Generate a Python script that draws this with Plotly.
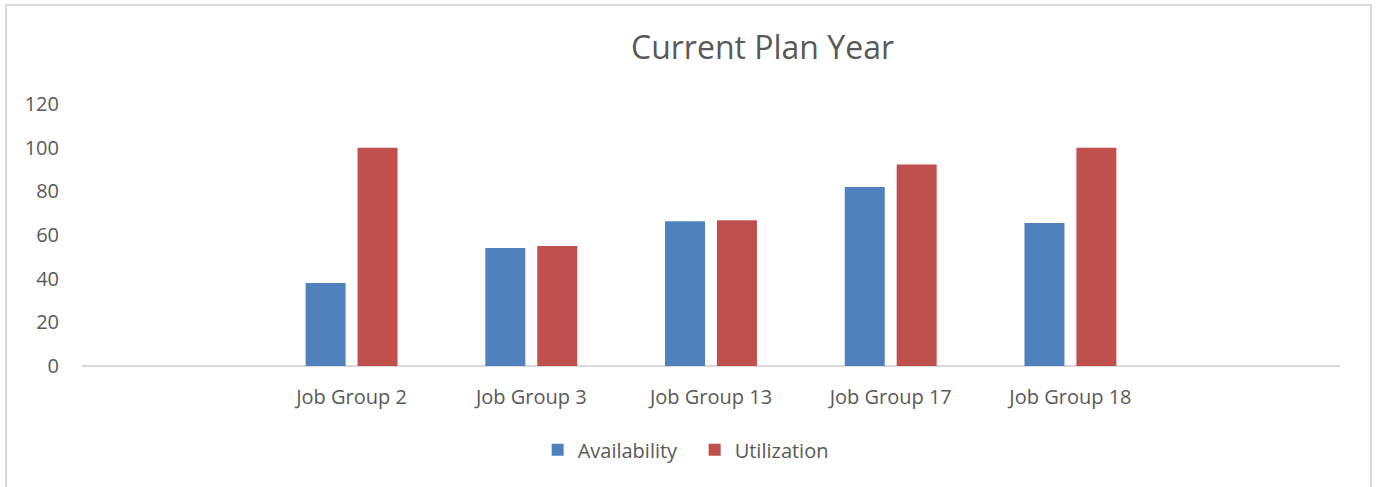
import plotly.graph_objects as go

categories = ["Job Group 2", "Job Group 3", "Job Group 13", "Job Group 17", "Job Group 18"]
availability = [38, 54, 66.3, 82, 65.5]
utilization = [100, 55, 66.8, 92.3, 100]
y_ticks = [0, 20, 40, 60, 80, 100, 120]

BLUE = "#4f81bd"
RED = "#c0504d"
TXT = "#595959"
FONT = "Open Sans"

fig = go.Figure()
fig.add_trace(go.Bar(x=categories, y=availability, name="Availability",
                     marker=dict(color=BLUE, line=dict(width=0))))
fig.add_trace(go.Bar(x=categories, y=utilization, name="Utilization",
                     marker=dict(color=RED, line=dict(width=0))))

fig.update_layout(
    width=1379, height=487,
    margin=dict(l=82, r=39, t=104, b=121),
    paper_bgcolor="white", plot_bgcolor="white",
    barmode="group", bargap=0.422, bargroupgap=0.23,
    font=dict(family=FONT, size=20, color=TXT),
    showlegend=True,
    legend=dict(orientation="h", x=0.487, xanchor="center", y=-0.245, yanchor="top",
                font=dict(size=20, color=TXT), traceorder="normal",
                entrywidth=112, entrywidthmode="pixels"),
    xaxis=dict(type="category", range=[-1.5, 5.5], showgrid=False, zeroline=False,
               showline=False, ticks="", ticklabelstandoff=17,
               tickfont=dict(size=20, color=TXT)),
    yaxis=dict(range=[0, 120], tickvals=y_ticks, showgrid=False, zeroline=True,
               zerolinecolor="#d9d9d9", zerolinewidth=1.5, showline=False, ticks="",
               ticklabelstandoff=22,
               tickfont=dict(size=20, color=TXT)),
    annotations=[dict(text="Current Plan Year", xref="paper", yref="paper",
                      x=0.541, y=1.22, xanchor="center", yanchor="middle",
                      showarrow=False, font=dict(size=32, color=TXT, family=FONT))],
    shapes=[dict(type="rect", xref="paper", yref="paper",
                 x0=-0.0604, x1=1.0246, y0=-0.5, y1=1.378,
                 line=dict(color="#d9d9d9", width=2), fillcolor="rgba(0,0,0,0)",
                 layer="below")],
)

fig.write_html("out.html", config={"displayModeBar": False},
               post_script="document.body.style.margin='0';")
